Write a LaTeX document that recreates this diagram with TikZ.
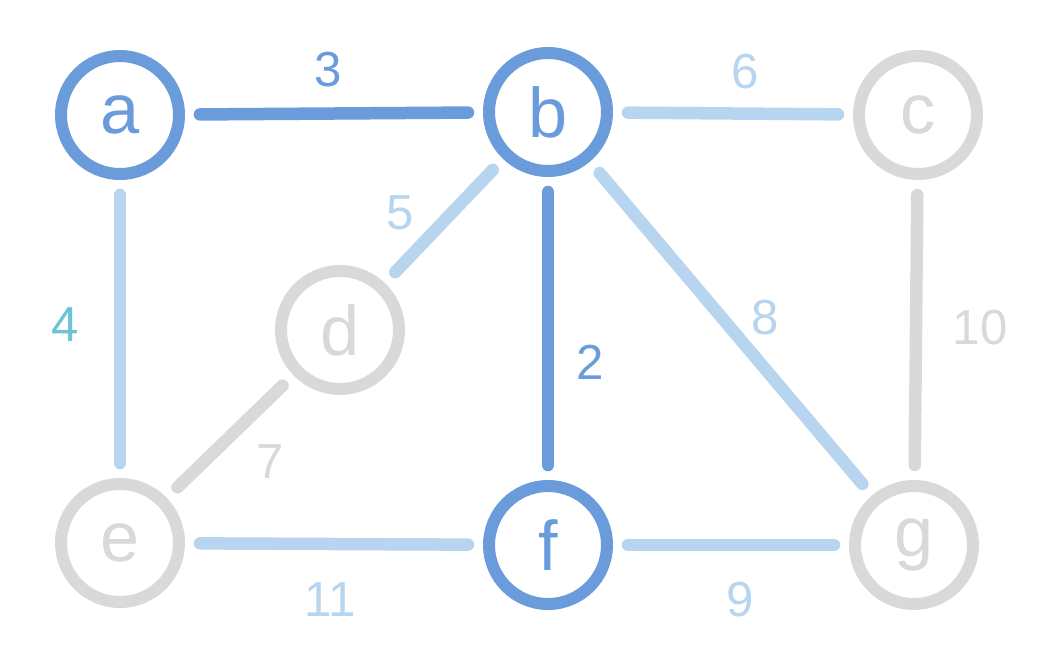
\documentclass[tikz,border=0pt]{standalone}
\usepackage{fontspec}
\setmainfont{Liberation Sans}
\definecolor{deepblue}{HTML}{6A9BDB}
\definecolor{paleblue}{HTML}{B7D5EE}
\definecolor{lightgray}{HTML}{D9D9D9}
\definecolor{tealish}{HTML}{6EC3D6}

\begin{document}
\begin{tikzpicture}[x=0.02cm, y=-0.02cm,
    vtx/.style={circle, draw, line width=0.24cm, minimum size=2.36cm, inner sep=0pt, font=\fontsize{40}{40}\selectfont},
    edge/.style={line width=0.25cm, line cap=round, shorten <=0.3cm, shorten >=0.3cm},
    lbl/.style={inner sep=0pt, font=\fontsize{28}{28}\selectfont}]

    \useasboundingbox (0,0) rectangle (1051,667);

    % Vertices
    \node[vtx, draw=deepblue, text=deepblue] (a) at (120,115) {a};
    \node[vtx, draw=deepblue, text=deepblue] (b) at (548,112) {b};
    \node[vtx, draw=lightgray, text=lightgray] (c) at (918,115) {c};
    \node[vtx, draw=lightgray, text=lightgray] (d) at (340,330) {d};
    \node[vtx, draw=lightgray, text=lightgray] (e) at (120,543) {e};
    \node[vtx, draw=deepblue, text=deepblue] (f) at (548,545) {f};
    \node[vtx, draw=lightgray, text=lightgray] (g) at (914,545) {g};

    % Edges
    \draw[edge, deepblue] (a) -- (b);
    \draw[edge, paleblue] (b) -- (c);
    \draw[edge, paleblue] (a) -- (e);
    \draw[edge, paleblue] (b) -- (d);
    \draw[edge, deepblue] (b) -- (f);
    \draw[edge, paleblue] (b) -- (g);
    \draw[edge, lightgray] (c) -- (g);
    \draw[edge, lightgray] (d) -- (e);
    \draw[edge, paleblue] (e) -- (f);
    \draw[edge, paleblue] (f) -- (g);

    % Weights
    \node[lbl, text=deepblue] (w3) at (328,70) {3};
    \node[lbl, text=paleblue] (w6) at (745,72) {6};
    \node[lbl, text=tealish] (w4) at (65,325) {4};
    \node[lbl, text=paleblue] (w5) at (400,213) {5};
    \node[lbl, text=deepblue] (w2) at (590,362) {2};
    \node[lbl, text=paleblue] (w8) at (765,318) {8};
    \node[lbl, text=lightgray] (w10) at (980,328) {10};
    \node[lbl, text=lightgray] (w7) at (270,462) {7};
    \node[lbl, text=paleblue] (w11) at (330,600) {11};
    \node[lbl, text=paleblue] (w9) at (740,600) {9};
\end{tikzpicture}
\end{document}
